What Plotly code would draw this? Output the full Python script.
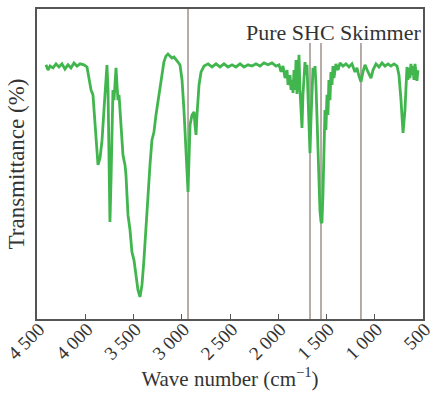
import plotly.graph_objects as go

wavenumber = [4407,4386,4365,4334,4303,4272,4241,4210,4179,4148,4117,4085,4054,4013,3982,3961,3940,3920,3909,3889,3878,3868,3847,3826,3806,3785,3775,3764,3754,3744,3733,3723,3713,3702,3692,3681,3671,3661,3650,3640,3630,3619,3609,3599,3588,3578,3568,3557,3536,3516,3495,3474,3454,3433,3412,3392,3371,3350,3329,3309,3288,3267,3246,3226,3205,3185,3164,3143,3122,3101,3080,3060,3039,3018,2997,2977,2956,2935,2925,2914,2894,2873,2863,2852,2842,2821,2800,2769,2728,2686,2645,2604,2562,2521,2479,2438,2396,2355,2313,2272,2231,2189,2148,2106,2065,2023,1992,1971,1951,1930,1909,1899,1878,1868,1858,1847,1837,1826,1816,1806,1795,1785,1775,1764,1754,1744,1733,1723,1713,1702,1692,1682,1671,1661,1651,1640,1630,1619,1609,1599,1588,1578,1568,1557,1547,1537,1526,1516,1506,1495,1485,1475,1464,1454,1443,1433,1423,1402,1381,1360,1329,1298,1267,1236,1205,1184,1164,1143,1122,1101,1070,1039,1018,987,956,925,894,863,832,800,769,749,728,707,687,676,666,656,645,635,625,614,604,594,583,573,563,552]
transmittance = [82,80.3,81.6,81,82.3,81.3,82.3,80.6,82,81,82.6,81.6,82.3,82,81.3,77.7,73.9,72.3,67.4,59.4,54.5,49.7,51.9,57.7,67.4,78.7,81.9,73.9,51.3,31.3,44.8,64.2,73.9,70.6,77.1,81,75.5,70.6,72.3,67.4,62.6,57.7,52.9,51.3,49.7,46.5,38.4,33.5,28.7,21.6,19,14.2,9.4,7.1,11,19,30.3,40,49.7,57.7,60.3,65.8,70.6,74.5,78.7,82.9,84.8,85.5,84.8,84.2,84.5,83.5,82.9,81.9,77.1,67.4,54.5,41,51.3,62.6,65.8,66.8,62.6,59.4,65.8,75.5,79.7,81.6,82.3,81.3,82.3,81.3,82.3,81.3,82,81.3,82.3,81.3,82,81.6,82.3,81.6,82.6,82,82.6,81.6,82,79.7,81.6,77.7,80.3,75.5,78.7,73.9,77.1,72.9,80.3,73.9,83.5,72.6,78.7,85.2,73.9,67.4,61.6,72.3,80.3,82.9,78.7,82,72.3,61,53.5,64.2,73.9,81,78.7,81.6,75.5,64.2,49.7,38.4,35,31.3,31,40,54.5,67.4,61,72.3,65.8,77.1,70.6,79.7,75.5,81.6,77.7,82.3,80.3,82.6,81.6,82.3,81.3,82.3,79.7,81,78.4,76.5,79.7,82,79.7,77.7,80.3,82.3,81.3,82.6,81.6,82.3,81.6,82.3,81.6,78.7,70.6,60,67.4,77.1,81.3,77.1,81,77.7,82.3,78.7,81.6,77.1,82.3,79.7,76.8,80.3]

marker_lines = [2935, 1671, 1557, 1143]
marker_tops = [100, 89, 89, 89]
tick_vals = [4500, 4000, 3500, 3000, 2500, 2000, 1500, 1000, 500]
tick_text = ["4 500", "4 000", "3 500", "3 000", "2 500", "2 000", "1 500", "1 000", "500"]

serif = "Liberation Serif, Times New Roman, serif"
fig = go.Figure()
for xv, top in zip(marker_lines, marker_tops):
    fig.add_trace(go.Scatter(x=[xv, xv], y=[0, top], mode="lines",
                             line=dict(color="#a0908c", width=1.5),
                             showlegend=False, hoverinfo="skip"))
fig.add_trace(go.Scatter(x=wavenumber, y=transmittance, mode="lines",
                         line=dict(color="#42b64e", width=2.8),
                         showlegend=False))

fig.add_annotation(text="Pure SHC Skimmer", xref="paper", yref="paper",
                   x=1.0, y=0.925, xanchor="right", yanchor="middle",
                   showarrow=False, font=dict(family=serif, size=22, color="#333"))

fig.update_layout(
    width=434, height=399,
    margin=dict(l=37, r=11, t=9, b=80, autoexpand=False),
    paper_bgcolor="white", plot_bgcolor="white",
    font=dict(family=serif, color="#333"),
    xaxis=dict(range=[4500, 500], tickvals=tick_vals, ticktext=tick_text,
               tickangle=-45, ticks="inside", ticklen=5, tickcolor="#555",
               ticklabelshift=-2, ticklabelstandoff=-10, ticklabeloverflow="allow",
               automargin=False,
               showline=True, linecolor="#555", linewidth=1.5, mirror=True,
               showgrid=False, zeroline=False,
               tickfont=dict(family=serif, size=19, color="#333"),
               title=dict(text="Wave number (cm<sup>\u22121</sup>)",
                          font=dict(family=serif, size=21, color="#333"),
                          standoff=0)),
    yaxis=dict(range=[0, 100], showticklabels=False, ticks="",
               automargin=False,
               showline=True, linecolor="#555", linewidth=1.5, mirror=True,
               showgrid=False, zeroline=False,
               title=dict(text="Transmittance (%)",
                          font=dict(family=serif, size=23, color="#333"),
                          standoff=4)),
)
fig.write_html("out.html")
